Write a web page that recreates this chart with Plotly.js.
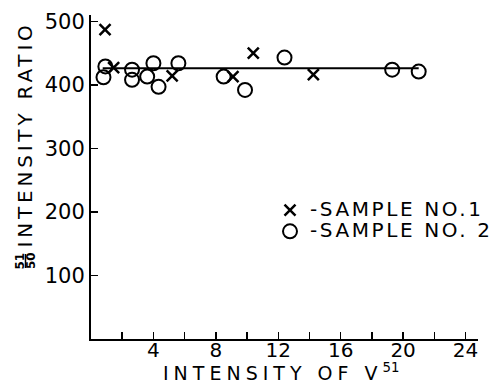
<!DOCTYPE html>
<html>
<head>
<meta charset="utf-8">
<script src="https://cdn.plot.ly/plotly-3.0.1.min.js"></script>
<style>
  html, body { margin: 0; padding: 0; background: #fff; }
  #chart { width: 500px; height: 392px; }
</style>
</head>
<body>
<div id="chart"></div>
<script>
// Sample No. 1 (crosses)
const sample1X = [0.9, 1.45, 5.2, 9.1, 10.4, 14.25];
const sample1Y = [487, 427, 414, 413, 450, 416];

// Sample No. 2 (circles)
const sample2X = [0.8, 0.92, 2.63, 2.63, 3.6, 4.0, 4.33, 5.6, 8.5, 9.87, 12.4, 19.3, 21.0];
const sample2Y = [412, 429, 424, 408, 413, 434, 397, 434, 413, 392, 443, 424, 421];

// Horizontal mean line
const fitX = [0.75, 21.0];
const fitY = [426, 426];

// Tick labels
const xTickVals = [4, 8, 12, 16, 20, 24];
const xTickText = ['4', '8', '12', '16', '20', '24'];
const xMinorTickVals = [2, 6, 10, 14, 18, 22];
const yTickVals = [100, 200, 300, 400, 500];
const yTickText = ['100', '200', '300', '400', '500'];

const FONT = 'DejaVu Sans, sans-serif';
const INK = '#000';

const traces = [
  {
    x: fitX, y: fitY, type: 'scatter', mode: 'lines',
    line: { color: INK, width: 2 },
    showlegend: false, hoverinfo: 'skip'
  },
  {
    x: sample1X, y: sample1Y, type: 'scatter', mode: 'markers',
    name: '<span style="font-size:20px;letter-spacing:2.6px">-SAMPLE NO.1</span>',
    marker: { symbol: 'x-thin-open', size: 11, color: INK, line: { color: INK, width: 2.5 } }
  },
  {
    x: sample2X, y: sample2Y, type: 'scatter', mode: 'markers',
    name: '<span style="font-size:20px;letter-spacing:2.6px">-SAMPLE NO. 2</span>',
    marker: { symbol: 'circle-open', size: 14, color: INK, line: { color: INK, width: 2 } }
  }
];

const px2paperX = (px) => (px - 91) / 387;
const px2paperY = (py) => (339 - py) / 324;

const layout = {
  width: 500, height: 392,
  margin: { l: 91, r: 22, t: 15, b: 53, autoexpand: false },
  paper_bgcolor: '#fff', plot_bgcolor: '#fff',
  font: { family: FONT, color: INK, size: 20 },
  showlegend: true,
  legend: {
    x: px2paperX(270), y: px2paperY(194.5), xanchor: 'left', yanchor: 'top',
    bgcolor: 'rgba(0,0,0,0)', borderwidth: 0,
    font: { family: FONT, size: 14, color: INK },
    itemwidth: 30
  },
  xaxis: {
    range: [0, 24.8], showgrid: false, zeroline: false,
    showline: true, linecolor: INK, linewidth: 2,
    ticks: 'inside', ticklen: 7, tickwidth: 1.5, tickcolor: INK,
    tickmode: 'array', tickvals: xTickVals, ticktext: xTickText,
    ticklabelstandoff: -8,
    minor: { tickmode: 'array', tickvals: xMinorTickVals, ticks: 'inside', ticklen: 7, tickwidth: 1.5, tickcolor: INK },
    tickfont: { family: FONT, size: 20, color: INK }
  },
  yaxis: {
    range: [0, 510], showgrid: false, zeroline: false,
    showline: true, linecolor: INK, linewidth: 2,
    ticks: 'inside', ticklen: 7, tickwidth: 1.5, tickcolor: INK,
    tickmode: 'array', tickvals: yTickVals, ticktext: yTickText,
    tickfont: { family: FONT, size: 21, color: INK }
  },
  annotations: [
    {
      xref: 'paper', yref: 'paper', x: px2paperX(281), y: px2paperY(372),
      xanchor: 'center', yanchor: 'middle', showarrow: false,
      text: '<span style="letter-spacing:5px">INTENSITY OF V</span><sup>51</sup>',
      font: { family: FONT, size: 19, color: INK }
    },
    {
      xref: 'paper', yref: 'paper', x: px2paperX(24.5), y: px2paperY(135),
      xanchor: 'center', yanchor: 'middle', showarrow: false, textangle: -90,
      text: '<span style="letter-spacing:3.8px">INTENSITY RATIO</span>',
      font: { family: FONT, size: 20, color: INK }
    },
    {
      xref: 'paper', yref: 'paper', x: px2paperX(19.5), y: px2paperY(261),
      xanchor: 'center', yanchor: 'middle', showarrow: false, textangle: -90,
      text: '<b>51</b>', font: { family: FONT, size: 12, color: INK }
    },
    {
      xref: 'paper', yref: 'paper', x: px2paperX(31), y: px2paperY(261),
      xanchor: 'center', yanchor: 'middle', showarrow: false, textangle: -90,
      text: '<b>50</b>', font: { family: FONT, size: 12, color: INK }
    }
  ],
  shapes: [
    {
      type: 'line', xref: 'paper', yref: 'paper',
      x0: px2paperX(25.5), x1: px2paperX(25.5), y0: px2paperY(254), y1: px2paperY(268),
      line: { color: INK, width: 1.5 }
    }
  ]
};

Plotly.newPlot('chart', traces, layout, { staticPlot: true, displayModeBar: false });
</script>
</body>
</html>
